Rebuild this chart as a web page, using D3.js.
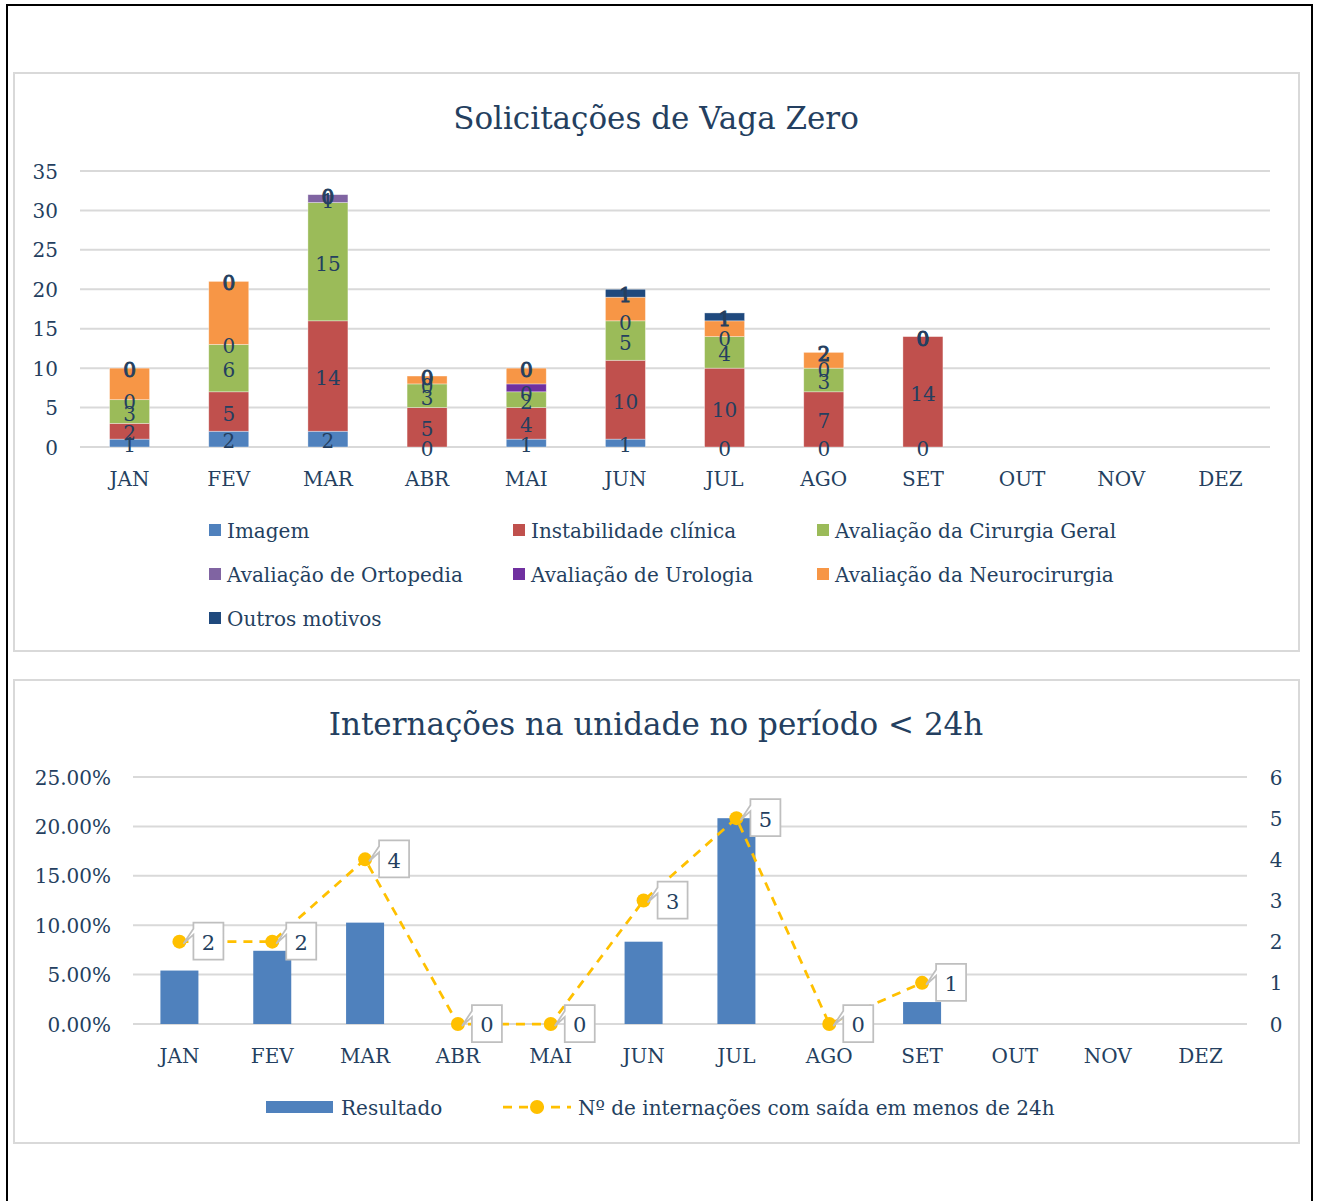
<!DOCTYPE html>
<html>
<head>
<meta charset="utf-8">
<script src="https://cdn.jsdelivr.net/npm/d3@7"></script>
<style>
  body { margin: 0; background: #fff; }
  text { font-family: "DejaVu Serif", "Liberation Serif", serif; fill: #243f60; }
</style>
</head>
<body>
<svg id="page"></svg>
<script>
const months = ["JAN", "FEV", "MAR", "ABR", "MAI", "JUN", "JUL", "AGO", "SET", "OUT", "NOV", "DEZ"];

// Solicitações de Vaga Zero (JAN..SET)
const imagem = [1, 2, 2, 0, 1, 1, 0, 0, 0];
const instabilidade = [2, 5, 14, 5, 4, 10, 10, 7, 14];
const cirurgiaGeral = [3, 6, 15, 3, 2, 5, 4, 3, 0];
const ortopedia = [0, 0, 1, 0, 0, 0, 0, 0, 0];
const urologia = [0, 0, 0, 0, 1, 0, 0, 0, 0];
const neurocirurgia = [4, 8, 0, 1, 2, 3, 2, 2, 0];
const outros = [0, 0, 0, 0, 0, 1, 1, 0, 0];
// labels shown on the top of each column
const outrosLabels = [0, 0, 0, 0, 0, 1, 1, 2, 0];
const yTicksTop = [0, 5, 10, 15, 20, 25, 30, 35];

// Internações na unidade no período < 24h
const resultado = [5.41, 7.41, 10.26, 0, 0, 8.33, 20.83, 0, 2.22];
const internacoes = [2, 2, 4, 0, 0, 3, 5, 0, 1];
const yTicksPct = [0, 5, 10, 15, 20, 25];
const yTicksCount = [0, 1, 2, 3, 4, 5, 6];

const series = [
  { name: "Imagem", values: imagem, labels: imagem, color: "#4f81bd" },
  { name: "Instabilidade clínica", values: instabilidade, labels: instabilidade, color: "#c0504d" },
  { name: "Avaliação da Cirurgia Geral", values: cirurgiaGeral, labels: cirurgiaGeral, color: "#9bbb59" },
  { name: "Avaliação de Ortopedia", values: ortopedia, labels: ortopedia, color: "#8064a2" },
  { name: "Avaliação de Urologia", values: urologia, labels: null, color: "#7030a0" },
  { name: "Avaliação da Neurocirurgia", values: neurocirurgia, labels: null, color: "#f79646" },
  { name: "Outros motivos", values: outros, labels: outrosLabels, color: "#1f497d", bold: true }
];

const width = 1318, height = 1201;
const svg = d3.select("#page").attr("width", width).attr("height", height);

// page frame and chart panels
svg.append("rect").attr("x", 7).attr("y", 5).attr("width", 1305).attr("height", 1220)
  .attr("fill", "none").attr("stroke", "#000").attr("stroke-width", 2);
svg.append("rect").attr("x", 14).attr("y", 73).attr("width", 1285).attr("height", 578)
  .attr("fill", "#fff").attr("stroke", "#d9d9d9").attr("stroke-width", 2);
svg.append("rect").attr("x", 14).attr("y", 680).attr("width", 1285).attr("height", 463)
  .attr("fill", "#fff").attr("stroke", "#d9d9d9").attr("stroke-width", 2);

// ---------- top chart ----------
const chart1 = svg.append("g");
const x1 = d3.scaleBand().domain(months).range([80, 1270]).padding(0);
const y1 = d3.scaleLinear().domain([0, 35]).range([447, 171]);

chart1.append("text").attr("x", 656).attr("y", 129).attr("text-anchor", "middle")
  .style("font-size", "31px").text("Solicitações de Vaga Zero");

chart1.selectAll(".grid").data(yTicksTop).enter().append("line")
  .attr("x1", 80).attr("x2", 1270)
  .attr("y1", d => y1(d)).attr("y2", d => y1(d))
  .attr("stroke", "#d9d9d9").attr("stroke-width", 2);

chart1.selectAll(".ytick").data(yTicksTop).enter().append("text")
  .attr("x", 58).attr("y", d => y1(d)).attr("dy", "0.38em")
  .attr("text-anchor", "end").style("font-size", "20px").text(d => d);

chart1.selectAll(".xtick").data(months).enter().append("text")
  .attr("x", d => x1(d) + x1.bandwidth() / 2).attr("y", 486)
  .attr("text-anchor", "middle").style("font-size", "20px").text(d => d);

const stackData = months.slice(0, 9).map((m, i) => {
  const row = { month: m };
  series.forEach(s => { row[s.name] = s.values[i]; });
  return row;
});
const stack = d3.stack().keys(series.map(s => s.name))(stackData);
const barW = 40;

stack.forEach((layer, si) => {
  const s = series[si];
  chart1.append("g").selectAll("rect").data(layer).enter().append("rect")
    .attr("x", d => x1(d.data.month) + x1.bandwidth() / 2 - barW / 2)
    .attr("y", d => y1(d[1]))
    .attr("width", barW)
    .attr("height", d => y1(d[0]) - y1(d[1]))
    .attr("fill", s.color)
    .attr("stroke", "rgba(255,255,255,0.5)").attr("stroke-width", 0.7);
});

stack.forEach((layer, si) => {
  const s = series[si];
  if (!s.labels) return;
  chart1.append("g").selectAll("text").data(layer).enter().append("text")
    .attr("x", d => x1(d.data.month) + x1.bandwidth() / 2)
    .attr("y", d => y1((d[0] + d[1]) / 2))
    .attr("dy", "0.45em")
    .attr("text-anchor", "middle")
    .style("font-size", "20px")
    .style("stroke", s.bold ? "#243f60" : "none")
    .style("stroke-width", s.bold ? 1 : 0)
    .text((d, i) => s.labels[i]);
});

// legend
const legendCols = [209, 513, 817];
const legend = chart1.selectAll(".leg").data(series).enter().append("g")
  .attr("transform", (d, i) => `translate(${legendCols[i % 3]},${530 + Math.floor(i / 3) * 44})`);
legend.append("rect").attr("x", 0).attr("y", -6).attr("width", 12).attr("height", 12)
  .attr("fill", d => d.color);
legend.append("text").attr("x", 18).attr("y", 0).attr("dy", "0.38em")
  .style("font-size", "20px").text(d => d.name);

// ---------- bottom chart ----------
const chart2 = svg.append("g");
const x2 = d3.scaleBand().domain(months).range([133, 1247]).padding(0);
const y2 = d3.scaleLinear().domain([0, 25]).range([1024, 777]);
const y2r = d3.scaleLinear().domain([0, 6]).range([1024, 777]);

chart2.append("text").attr("x", 656).attr("y", 735).attr("text-anchor", "middle")
  .style("font-size", "31px").text("Internações na unidade no período < 24h");

chart2.selectAll(".grid").data(yTicksPct).enter().append("line")
  .attr("x1", 133).attr("x2", 1247)
  .attr("y1", d => y2(d)).attr("y2", d => y2(d))
  .attr("stroke", "#d9d9d9").attr("stroke-width", 2);

chart2.selectAll(".ytl").data(yTicksPct).enter().append("text")
  .attr("x", 111).attr("y", d => y2(d)).attr("dy", "0.38em")
  .attr("text-anchor", "end").style("font-size", "20px").text(d => d.toFixed(2) + "%");

chart2.selectAll(".ytr").data(yTicksCount).enter().append("text")
  .attr("x", 1276).attr("y", d => y2r(d)).attr("dy", "0.38em")
  .attr("text-anchor", "middle").style("font-size", "20px").text(d => d);

chart2.selectAll(".xtick").data(months).enter().append("text")
  .attr("x", d => x2(d) + x2.bandwidth() / 2).attr("y", 1063)
  .attr("text-anchor", "middle").style("font-size", "20px").text(d => d);

const cx2 = i => x2(months[i]) + x2.bandwidth() / 2;

chart2.selectAll(".bar").data(resultado).enter().append("rect")
  .attr("x", (d, i) => cx2(i) - 19)
  .attr("y", d => y2(d))
  .attr("width", 38)
  .attr("height", d => y2(0) - y2(d))
  .attr("fill", "#4f81bd");

const line = d3.line().x((d, i) => cx2(i)).y(d => y2r(d));
chart2.append("path").datum(internacoes).attr("d", line)
  .attr("fill", "none").attr("stroke", "#ffc000").attr("stroke-width", 2.75)
  .attr("stroke-dasharray", "9,7");

chart2.selectAll(".dot").data(internacoes).enter().append("circle")
  .attr("cx", (d, i) => cx2(i)).attr("cy", d => y2r(d)).attr("r", 7)
  .attr("fill", "#ffc000");

// callout labels
const callouts = chart2.selectAll(".call").data(internacoes).enter().append("g")
  .attr("transform", (d, i) => `translate(${cx2(i)},${y2r(d)})`);
callouts.append("path")
  .attr("d", "M14,-19 H44 V18 H14 V-7 L4,2 L14,-13 Z")
  .attr("fill", "#fff").attr("stroke", "#bfbfbf").attr("stroke-width", 1.75);
callouts.append("text").attr("x", 29).attr("y", 0).attr("dy", "0.4em")
  .attr("text-anchor", "middle").style("font-size", "21px").text(d => d);

// bottom legend
chart2.append("rect").attr("x", 266).attr("y", 1101).attr("width", 67).attr("height", 12)
  .attr("fill", "#4f81bd");
chart2.append("text").attr("x", 341).attr("y", 1107).attr("dy", "0.38em")
  .style("font-size", "20px").text("Resultado");
chart2.append("line").attr("x1", 503).attr("x2", 571).attr("y1", 1107).attr("y2", 1107)
  .attr("stroke", "#ffc000").attr("stroke-width", 2.75).attr("stroke-dasharray", "9,7");
chart2.append("circle").attr("cx", 537).attr("cy", 1107).attr("r", 7).attr("fill", "#ffc000");
chart2.append("text").attr("x", 578).attr("y", 1107).attr("dy", "0.38em")
  .style("font-size", "20px").text("Nº de internações com saída em menos de 24h");
</script>
</body>
</html>
